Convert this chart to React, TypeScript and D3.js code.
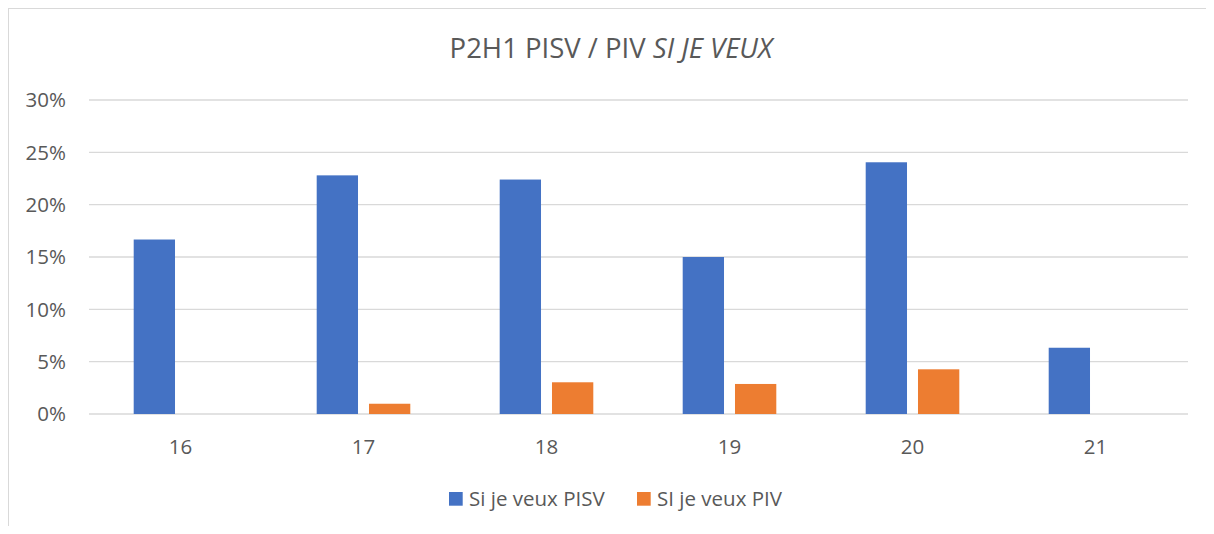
import React from "react";
import * as d3 from "d3";

const categories = ["16", "17", "18", "19", "20", "21"];
const seriesNames = ["Si je veux PISV", "SI je veux PIV"];
const pisvValues = [0.1667, 0.228, 0.224, 0.15, 0.2405, 0.0633];
const pivValues = [0, 0.0098, 0.0303, 0.0287, 0.0427, 0];
const yTicks = [0, 0.05, 0.1, 0.15, 0.2, 0.25, 0.3];
const colors = ["#4472C4", "#ED7D31"];

const W = 1206;
const H = 526;
const margin = { left: 81, right: 27, top: 92, bottom: 120 };
const font = "'Open Sans', sans-serif";
const textColor = "#595959";
const gridColor = "#D9D9D9";

const App: React.FC = () => {
    const x0 = d3.scaleBand<string>()
        .domain(categories)
        .range([margin.left, W - margin.right])
        .padding(0);
    const bw = x0.bandwidth();
    // bars grouped around the center of each category
    const x1 = d3.scaleBand<string>()
        .domain(seriesNames)
        .range([bw / 2 - 46.8, bw / 2 + 46.8])
        .paddingInner(0.21);
    const y = d3.scaleLinear()
        .domain([0, 0.3])
        .range([H - margin.bottom, margin.top]);
    const fmt = d3.format(".0%");
    const series = [pisvValues, pivValues];

    return (
        <svg width={W} height={H} style={{ display: "block", marginBottom: -8 }} fontFamily={font}>
            <rect x={0.5} y={0.5} width={W + 10} height={H + 20} fill="#fff" stroke={gridColor} strokeWidth={1} />

            <text x={603} y={50} textAnchor="middle" fontSize={27.5} fill={textColor}>
                P2H1 PISV / PIV <tspan fontStyle="italic">SI JE VEUX</tspan>
            </text>

            {/* gridlines and y labels */}
            {yTicks.map(t => (
                <g key={t}>
                    <line x1={margin.left} x2={W - margin.right + 1} y1={y(t)} y2={y(t)} stroke={gridColor} strokeWidth={1.3} />
                    <text x={58} y={y(t) + 7.2} textAnchor="end" fontSize={20.5} fill={textColor}>{fmt(t)}</text>
                </g>
            ))}

            {/* bars */}
            {categories.map((c, i) => (
                <g key={c} transform={`translate(${x0(c)},0)`}>
                    {series.map((vals, s) => (
                        vals[i] > 0 ? (
                            <rect key={s}
                                x={x1(seriesNames[s])}
                                y={y(vals[i])}
                                width={x1.bandwidth()}
                                height={y(0) - y(vals[i])}
                                fill={colors[s]} />
                        ) : null
                    ))}
                    <text x={bw / 2} y={445.5} textAnchor="middle" fontSize={20.5} fill={textColor}>{c}</text>
                </g>
            ))}

            {/* legend */}
            {seriesNames.map((name, s) => {
                const lx = s === 0 ? 441 : 629;
                return (
                    <g key={name}>
                        <rect x={lx} y={484} width={13.7} height={13.7} fill={colors[s]} />
                        <text x={lx + 20} y={498} fontSize={20.5} fill={textColor}>{name}</text>
                    </g>
                );
            })}
        </svg>
    );
};

export default App;
